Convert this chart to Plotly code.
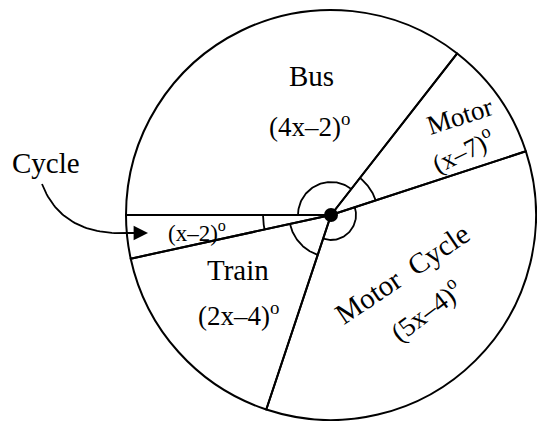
import numpy as np
import plotly.graph_objects as go

# ---- data ----
modes = ["Cycle", "Train", "Motor Cycle", "Motor", "Bus"]
angles = [12.3, 59.3, 126.5, 33.9, 128.0]          # sector angles in degrees
expressions = ["(x–2)", "(2x–4)", "(5x–4)", "(x–7)", "(4x–2)"]

# ---- layout / style ----
W, H = 537, 421
CX, CY, R = 331, 215, 205          # pixel centre and radius of the circle
START = 180.0                      # first sector starts at 9 o'clock, runs anticlockwise
arc_r = [68, 42, 25, 47, 33]       # radii of the little angle marks
FONT = "Liberation Serif"

total = float(sum(angles))
# plotly (anticlockwise) places the first slice so that it ends at `rotation`
rotation = (90 - START) - angles[0] * 360.0 / total
rotation = ((rotation + 360) % 720) - 360

fig = go.Figure()

fig.add_trace(go.Pie(
    labels=modes, values=angles, sort=False, direction="counterclockwise",
    rotation=rotation, textinfo="none", hoverinfo="skip", showlegend=False,
    marker=dict(colors=["rgba(0,0,0,0)"] * len(modes),
                line=dict(color="black", width=2)),
    domain=dict(x=[(CX - R) / W, (CX + R) / W],
                y=[(H - CY - R) / H, (H - CY + R) / H]),
))

# angle marks computed from the sector angles
cum = np.concatenate([[0], np.cumsum(angles)]) * 360.0 / total
for i in range(len(angles)):
    a0, a1 = START + cum[i], START + cum[i + 1]
    t = np.radians(np.linspace(a0, a1, 60))
    fig.add_trace(go.Scatter(
        x=CX + arc_r[i] * np.cos(t), y=CY - arc_r[i] * np.sin(t),
        mode="lines", line=dict(color="black", width=1.8),
        hoverinfo="skip", showlegend=False))

# centre dot
fig.add_trace(go.Scatter(x=[CX], y=[CY], mode="markers",
                         marker=dict(color="black", size=14),
                         hoverinfo="skip", showlegend=False))

# curved arrow from the "Cycle" label into the thin sector
p0, p1, p2 = np.array([42, 184]), np.array([62, 236]), np.array([128, 233])
s = np.linspace(0, 1, 40)[:, None]
curve = (1 - s) ** 2 * p0 + 2 * (1 - s) * s * p1 + s ** 2 * p2
fig.add_trace(go.Scatter(x=curve[:, 0], y=curve[:, 1], mode="lines",
                         line=dict(color="black", width=1.8),
                         hoverinfo="skip", showlegend=False))
fig.add_annotation(x=148, y=233, ax=126, ay=233, xref="x", yref="y",
                   axref="x", ayref="y", text="", showarrow=True,
                   arrowhead=2, arrowsize=1.6, arrowwidth=1.8, arrowcolor="black")

deg = "<sup>o</sup>"
labels = [
    # text, x, y, size, angle
    ("Bus", 311, 76, 29, 0),
    (expressions[4] + deg, 309, 125, 27, 0),
    ("Cycle", 46, 163, 29, 0),
    (expressions[0] + deg, 197, 231, 23, 0),
    ("Train", 238, 270, 29, 0),
    (expressions[1] + deg, 238, 314, 27, 0),
    ("Motor", 460, 116, 27, -18),
    (expressions[3] + deg, 462, 150, 26, -26),
    ("Motor  Cycle", 402, 274, 29, -34),
    (expressions[2] + deg, 425, 310, 27, -37),
]
for txt, x, y, size, ang in labels:
    fig.add_annotation(x=x, y=y, xref="x", yref="y", text=txt, showarrow=False,
                       textangle=ang, font=dict(family=FONT, size=size, color="black"))

fig.update_layout(
    width=W, height=H, margin=dict(l=0, r=0, t=0, b=0),
    paper_bgcolor="white", plot_bgcolor="white",
    xaxis=dict(range=[0, W], visible=False, fixedrange=True),
    yaxis=dict(range=[H, 0], visible=False, fixedrange=True),
)

fig.write_html("out.html", config={"displayModeBar": False},
               post_script="document.body.style.margin='0';document.body.style.overflow='hidden';")
